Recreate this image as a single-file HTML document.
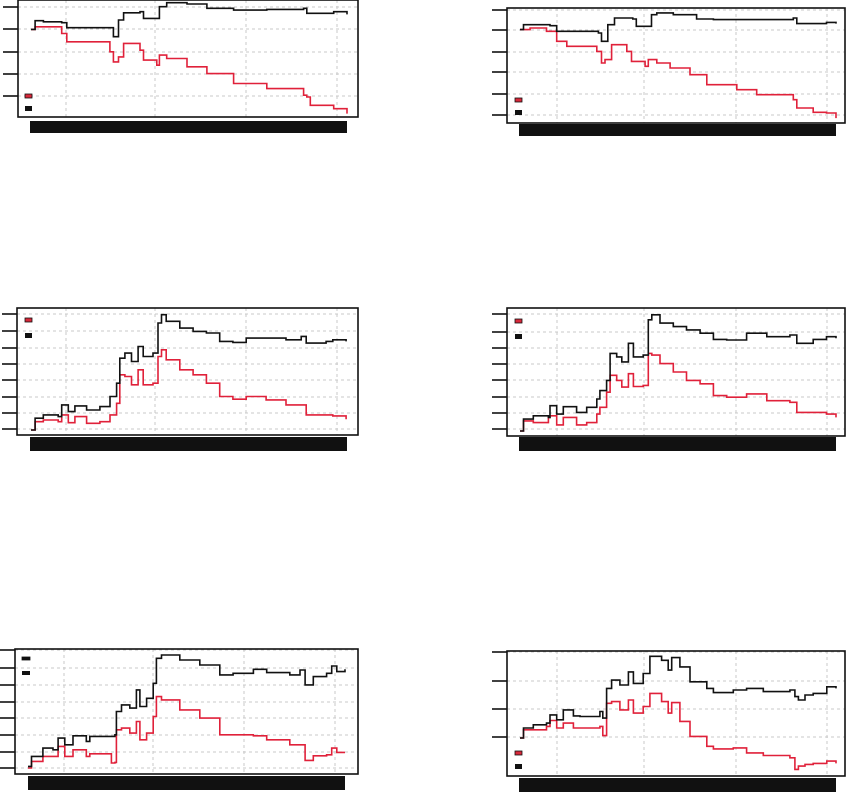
<!DOCTYPE html>
<html><head><meta charset="utf-8"><style>
html,body{margin:0;padding:0;background:#fff;}
svg{display:block;font-family:"Liberation Sans",sans-serif;}
</style></head><body>
<svg id="chart" width="850" height="793" viewBox="0 0 850 793" xmlns="http://www.w3.org/2000/svg"></svg>
<script>
// ---- data (time 0..100, values 0..100 of panel range) ----
const tA=[0,1.3,3.9,9.7,11.3,24.9,26,27.6,29.2,34.4,35.5,39.7,40.5,42.8,49.2,55.5,63.9,74.4,86,87,88.1,95.5,99.7];
const blackA=[74.9,82.3,81.4,80.6,76.3,76.3,68.6,82.9,89.1,90,84.3,84.3,94.3,97.7,96.6,92.9,91.4,92,92.9,88.6,88.6,90,87.7];
const redA=[74.9,77.1,77.1,71.4,64.3,55.7,47.1,51.4,62.9,57.1,48.6,44.3,52.9,50,42.9,37.1,28.6,24.3,18.6,17.1,10,7.1,2.9];

const tBblack=[0,1.1,9.5,11.6,24.8,25.8,27.8,29.9,35.7,36.8,40.5,41.6,43.3,48.5,55.9,61.2,71.7,86.5,87.6,97.0,100];
const blackB=[81.2,85.5,84.6,79.7,78.3,71,85.5,91.3,90.4,84.1,84.1,94.2,95.7,94.2,90.4,89.9,89.9,91.3,86.4,87.5,86.4];
const tBred=[0,3.2,8.4,11.6,14.8,24.3,25.8,26.9,29,33.8,35.3,39.6,40.6,43.3,47.5,53.8,59.1,68.6,74.9,86.5,87.6,92.8,97,100];
const redB=[81.2,82.6,79.7,71,66.7,62.3,52.2,55.1,68.1,62.3,53.6,49.3,55.1,52.2,47.8,42,33.3,29,24.6,20.3,13,9.3,8.7,4.3];

const tC=[0,1.3,3.9,8.6,9.7,11.8,13.9,17.6,21.8,25,27.1,28.1,29.7,31.8,33.9,35.5,38.6,40.2,41.3,42.8,47.1,51.3,55.5,59.7,63.9,68.1,74.4,80.7,85.5,87.1,93.4,95.5,99.7];
const blackC=[3.9,13.2,15.8,14.5,23.7,18.4,22.9,19.7,22.4,30.3,40.8,60.5,64.5,57.9,69.7,61.8,64.5,88.2,94.7,89.5,84.2,81.6,80.3,73.7,72.9,76.3,76.3,75,77.6,72.4,73.7,75,73.7];
const redC=[3.9,10.5,11.8,10.5,15.8,9.7,14.5,9.2,10.5,15.8,25,47.4,46.1,39.5,51.3,39.5,40.8,61.8,67.1,59.2,51.3,47.4,40.8,30.3,28.2,30.3,27.6,23.7,23.7,15.8,15.8,15,12.4];

const tD=[0,1.1,4.2,9,9.5,11.6,13.7,17.9,21.1,24.3,25.3,27.4,28.5,30.6,32.2,34.3,35.9,39,40.6,41.7,44.3,48.5,52.7,57,61.2,65.4,71.7,78.1,85.4,87.6,92.8,97.0,100];
const blackD=[3.9,13.2,15.8,14.5,23.7,17.1,22.9,18.4,22.4,28.9,35.5,43.4,64.5,61.8,57.9,72.4,61.8,63.2,90.8,94.7,88.2,85.5,82.9,80.3,75.5,75,80.3,77.6,78.9,72.4,75.5,77.6,76.3];
const redD=[3.9,11.8,10.5,14.5,15.8,8.7,14.5,8.7,10.5,17.1,22.4,34.2,47.4,43.4,38.2,48.7,38.7,39.5,64.5,63.2,56.6,50,43.4,40.8,31.6,30.3,32.9,27.6,26.3,18.4,18.4,17.1,14.5];

const tE=[0,1.1,4.7,7.9,9.5,11.6,14.2,18.4,19.5,25.8,26.3,27.4,27.9,29.5,32.1,34.2,35.3,37.4,39.5,40.5,42.1,47.9,54.2,60.5,64.7,71.1,75.3,82.6,85.8,87.4,90,94.2,95.8,97.4,100];
const blackE=[6.1,14.1,20.7,19.4,28.7,23.4,30.6,26.1,30.1,30.1,30.1,31.4,50,55.3,52.7,67.3,54,60.6,72.6,92.6,95.2,91.2,87.2,79.3,80.6,83.8,81.1,79.3,83.2,71.3,77.9,80.6,86.4,81.9,83.8];
const redE=[4.8,10.1,14.1,14.1,22.1,14.1,19.4,14.1,16.2,16.2,8.8,9.3,35.4,36.7,32.7,42,27.4,32.7,46,61.9,59.3,51.3,44.7,31.4,31.4,30.6,27.4,23.4,23.4,10.9,14.6,15.4,20.7,17.3,17.3];

const tF=[0,1.1,4.2,8.4,9.5,11.6,13.7,16.9,19,25.3,26.2,27.4,29,31.6,34.3,35.9,39,41.1,44.8,46.9,48,50.6,53.8,59.1,61.2,67.5,71.7,77,85.4,87,88.1,90.2,92.8,97.1,100];
const blackF=[30.4,38.4,41,42.3,48.9,45,52.9,48.1,47.6,51.6,46.3,70.1,76.7,72.8,83.3,74.1,82,95.8,92.6,84.7,94.7,87.3,75.4,70.1,66.7,68.8,70.1,67.5,68.8,63.5,60.8,64.8,66.1,71.4,70.1];
const redF=[30.4,37,37,39.7,44.4,38.4,42.3,38.4,38.4,39.7,32.3,58.2,59.5,52.9,60.8,50.3,55.6,66.1,59.5,50.3,58.7,43.7,31.7,23.8,21.7,22.5,18.5,16.4,14.6,5.3,7.9,9.3,10.1,11.9,10.1];

// ---- layout ----
const NS="http://www.w3.org/2000/svg";
const svg=document.getElementById('chart');
function mk(tag,attrs,parent){const e=document.createElementNS(NS,tag);for(const k in attrs)e.setAttribute(k,attrs[k]);(parent||svg).appendChild(e);return e;}
const panels=[
 {id:'a',box:[18,0,358,117],xs:31,xe:348,ticks:[7,29,52,74,96],grid:[66,155,246,337],bar:[30,121,317,12],legR:[25,94,7,4],legB:[25,106,7,5],redLeg:'#d8283a',
  tB:tA,vB:blackA,tR:tA,vR:redA},
 {id:'b',box:[507,8,845,123],xs:520,xe:836,ticks:[10,30,52,72,94,115],grid:[557,644,736,827],bar:[519,124,317,12],legR:[515,98,7,4],legB:[515,110,7,5],redLeg:'#d8283a',
  tB:tBblack,vB:blackB,tR:tBred,vR:redB},
 {id:'c',box:[17,308,358,435],xs:31,xe:347,ticks:[314,331,348,364,380,397,413,429],grid:[66,155,246,337],bar:[30,437,317,14],legR:[25,318,7,4],legB:[25,333,7,5],redLeg:'#d8283a',
  tB:tC,vB:blackC,tR:tC,vR:redC},
 {id:'d',box:[507,308,845,436],xs:520,xe:836,ticks:[314,332,348,364,380,397,413,429],grid:[557,644,736,827],bar:[519,437,317,14],legR:[515,319,7,4],legB:[515,334,7,5],redLeg:'#d8283a',
  tB:tD,vB:blackD,tR:tD,vR:redD},
 {id:'e',box:[15,649,358,774],xs:28,xe:345,ticks:[650,668,685,702,718,735,752,768],grid:[64,153,244,335],bar:[28,776,317,14],legR:[22,657,8,3],legB:[22,671,8,4],redLeg:'#111',
  tB:tE,vB:blackE,tR:tE,vR:redE},
 {id:'f',box:[507,651,845,776],xs:520,xe:836,ticks:[652,681,709,737],grid:[557,644,736,827],bar:[519,778,317,14],legR:[515,751,7,4],legB:[515,764,7,5],redLeg:'#d8283a',
  tB:tF,vB:blackF,tR:tF,vR:redF}
];
function stepPath(ts,vs,xf,yf){let d='';for(let i=0;i<ts.length;i++){const x=xf(ts[i]).toFixed(1),y=yf(vs[i]).toFixed(1);if(i===0)d+='M'+x+' '+y;else d+='H'+x+'V'+y;}return d;}
panels.forEach(p=>{
  const g=mk('g',{});
  
  
  const [x0,y0,x1,y1]=p.box;
  const xf=t=>p.xs+(p.xe-p.xs)*t/100;
  const yf=v=>y1-(y1-y0)*v/100;
  p.ticks.forEach(ty=>{
    const gl=mk('line',{x1:x0,x2:x1,y1:ty,y2:ty,stroke:'#c8c8c8','stroke-width':1,'stroke-dasharray':'3,3'},g);
    
    
    const tk=mk('line',{x1:x0-15,x2:x0,y1:ty,y2:ty,stroke:'#111','stroke-width':1.6},g);
    
    
  });
  p.grid.forEach(gx=>{
    const gl=mk('line',{x1:gx,x2:gx,y1:y0,y2:y1,stroke:'#c8c8c8','stroke-width':1,'stroke-dasharray':'3,3'},g);
    
    
  });
  const red=mk('path',{d:stepPath(p.tR,p.vR,xf,yf),fill:'none',stroke:'#e0213a','stroke-width':1.6},g);
  
  
  const blk=mk('path',{d:stepPath(p.tB,p.vB,xf,yf),fill:'none',stroke:'#111','stroke-width':1.6},g);
  
  
  const box=mk('rect',{x:x0,y:y0,width:x1-x0,height:y1-y0,fill:'none',stroke:'#111','stroke-width':1.6},g);
  
  
  const lr=mk('rect',{x:p.legR[0],y:p.legR[1],width:p.legR[2],height:p.legR[3],fill:p.redLeg,stroke:'#111','stroke-width':0.8},g);
  
  
  const lb=mk('rect',{x:p.legB[0],y:p.legB[1],width:p.legB[2],height:p.legB[3],fill:'#111'},g);
  
  
  const bar=mk('rect',{x:p.bar[0],y:p.bar[1],width:p.bar[2],height:p.bar[3],fill:'#111'},g);
  
  
});
</script>
</body></html>
